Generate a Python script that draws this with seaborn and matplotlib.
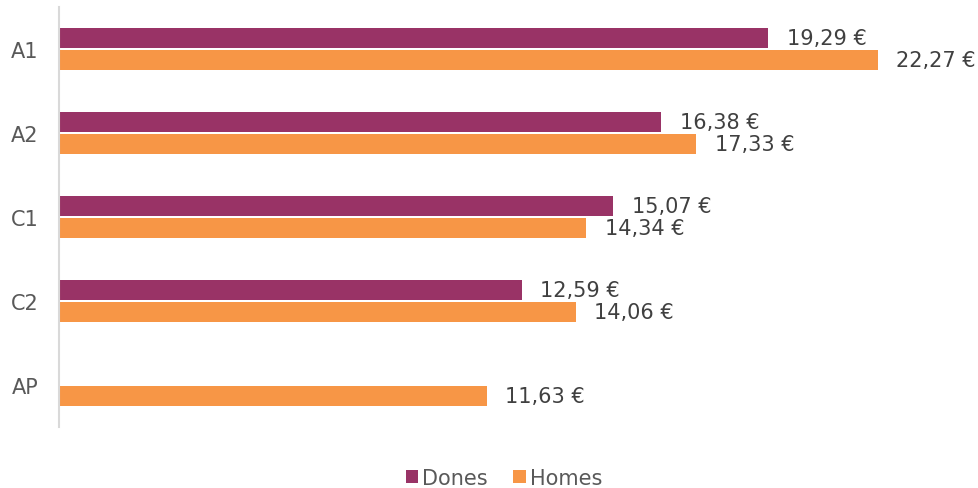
import matplotlib
matplotlib.use("Agg")
import matplotlib.pyplot as plt
import seaborn as sns
import numpy as np
import pandas as pd
from matplotlib.patches import Patch

# Hourly wage by professional category and gender
categories = ["A1", "A2", "C1", "C2", "AP"]
dones = [19.29, 16.38, 15.07, 12.59, np.nan]
homes = [22.27, 17.33, 14.34, 14.06, 11.63]
series = ["Dones", "Homes"]
colors = ["#993366", "#F79646"]

df = pd.DataFrame({
    "categoria": categories * 2,
    "sexe": [series[0]] * len(categories) + [series[1]] * len(categories),
    "valor": dones + homes,
})

sns.set_style("white")
plt.rcParams["font.family"] = ["DejaVu Sans"]

fig = plt.figure(figsize=(9.79, 4.89), dpi=100)
ax = fig.add_axes([59 / 979, 1 - 428 / 489, (960 - 59) / 979, (428 - 8) / 489])

sns.barplot(data=df, y="categoria", x="valor", hue="sexe", order=categories,
            hue_order=series, palette=colors, orient="h", width=0.52, gap=0.05,
            saturation=1, ax=ax, legend=False, errorbar=None, linewidth=0)

ax.set_xlim(0, 24.5)
ax.set_ylim(len(categories) - 0.5, -0.5)
ax.set_xlabel("")
ax.set_ylabel("")
ax.set_xticks([])
for s in ["top", "right", "bottom"]:
    ax.spines[s].set_visible(False)
ax.spines["left"].set_color("#D9D9D9")
ax.spines["left"].set_linewidth(1.5)
ax.tick_params(axis="y", length=0, pad=15, labelsize=15, labelcolor="#595959")

def fmt(v):
    return f"{v:.2f}".replace(".", ",") + " €"

for container in ax.containers:
    for bar in container:
        w = bar.get_width()
        if np.isnan(w) or w == 0:
            continue
        ax.text(w + 0.5, bar.get_y() + bar.get_height() / 2, fmt(w),
                va="center", ha="left", fontsize=15, color="#404040",
                clip_on=False)

handles = [Patch(facecolor=c, edgecolor="none") for c in colors]
fig.legend(handles, series, loc="center", bbox_to_anchor=(504 / 979, 1 - 479 / 489),
           ncol=2, frameon=False, fontsize=15, labelcolor="#595959",
           handlelength=0.6, handleheight=0.6, handletextpad=0.2, columnspacing=1.2)

fig.savefig("out.png", dpi=100)
